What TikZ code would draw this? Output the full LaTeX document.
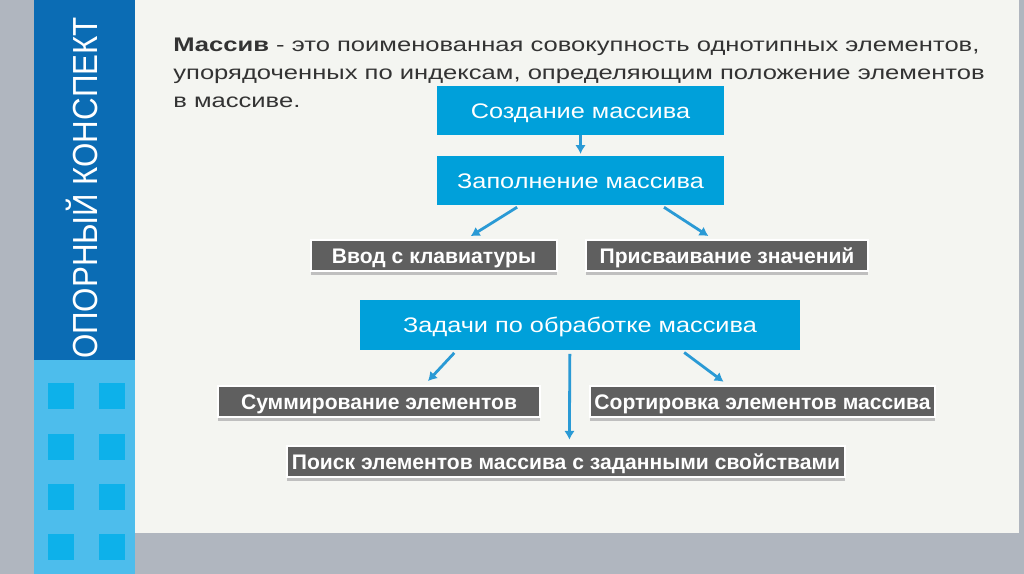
\documentclass[tikz,border=0pt]{standalone}
\usepackage{fontspec}
\setmainfont{Liberation Sans}
\newfontfamily\widefont[FakeStretch=1.3]{Liberation Sans}
\newfontfamily\boxfont[FakeStretch=1.2]{Liberation Sans}
\newfontfamily\sidefont[FakeStretch=0.9]{Liberation Sans}
\usetikzlibrary{calc,arrows.meta,shadows}

\definecolor{panelbg}{HTML}{F4F5F1}
\definecolor{stripgray}{HTML}{B0B6BF}
\definecolor{darkblue}{HTML}{0B6CB4}
\definecolor{lightblue}{HTML}{4DBDEC}
\definecolor{tileblue}{HTML}{0DB1EA}
\definecolor{cyanbox}{HTML}{00A0DA}
\definecolor{boxgray}{HTML}{5F5F5F}
\definecolor{arrowblue}{HTML}{2A9AD5}
\definecolor{titlegray}{HTML}{333333}

\begin{document}
\begin{tikzpicture}[x=0.02cm, y=-0.02cm,
  bluebox/.style={fill=cyanbox, text=white, minimum width=5.74cm, minimum height=0.98cm, align=center,
    text height=8.6pt, text depth=0pt, font=\boxfont\fontsize{12}{14}\selectfont},
  graybox/.style={fill=boxgray, draw=white, line width=1.2pt, text=white, minimum height=0.62cm, inner sep=1pt, align=center,
    text height=8.6pt, text depth=0pt, font=\bfseries\fontsize{12}{13}\selectfont,
    drop shadow={shadow xshift=0pt, shadow yshift=-2.5pt, fill=black!25, opacity=1}},
  arrow/.style={-{Latex[length=5pt,width=6pt]}, draw=arrowblue, line width=1.6pt, shorten <=2pt, shorten >=3pt}
]
% background
\useasboundingbox (0,0) rectangle (1024,574);
\fill[stripgray] (0,0) rectangle (1024,574);
\fill[panelbg] (135,0) rectangle (1019,533);
\fill[darkblue] (34,0) rectangle (135,360);
\fill[lightblue] (34,360) rectangle (135,574);
\foreach \y in {383,434,484,534}
  \foreach \x in {48,99}
    \fill[tileblue] (\x,\y) rectangle ++(26,26);

\node[rotate=90, text=white, font=\sidefont\fontsize{19.8}{22}\selectfont] (side) at (82,188) {ОПОРНЫЙ КОНСПЕКТ};

% definition
\node[anchor=north west, align=left, inner sep=0pt, text=titlegray, font=\widefont\fontsize{11.2}{15.7}\selectfont] (def) at (173,38)
  {\textbf{Массив} - это поименованная совокупность однотипных элементов,\\
   упорядоченных по индексам, определяющим положение элементов\\
   в массиве.};

% boxes
\node[bluebox] (create) at (580.5,110.5) {Создание массива};
\node[bluebox] (fill) at (580.5,180.5) {Заполнение массива};
\node[graybox, minimum width=4.92cm] (input) at (434,255.5) {Ввод с клавиатуры};
\node[graybox, minimum width=5.64cm] (assign) at (727,255.5) {Присваивание значений};
\node[bluebox, minimum width=8.8cm, minimum height=1cm] (tasks) at (580,325) {Задачи по обработке массива};
\node[graybox, minimum width=6.44cm] (sum) at (379,401.5) {Суммирование элементов};
\node[graybox, minimum width=6.9cm] (sort) at (762.5,401.5) {Сортировка элементов массива};
\node[graybox, minimum width=11.16cm] (search) at (566,461.5) {Поиск элементов массива с заданными свойствами};

% arrows
\draw[arrow, shorten <=0pt, shorten >=1pt] (create.south) -- (fill.north);
\draw[arrow] ($(fill.south west)!0.29!(fill.south east)$) -- ($(input.north west)!0.63!(input.north east)$);
\draw[arrow] ($(fill.south west)!0.78!(fill.south east)$) -- ($(assign.north west)!0.45!(assign.north east)$);
\draw[arrow] ($(tasks.south west)!0.22!(tasks.south east)$) -- ($(sum.north west)!0.64!(sum.north east)$);
\draw[arrow] ($(tasks.south west)!0.73!(tasks.south east)$) -- ($(sort.north west)!0.40!(sort.north east)$);
\draw[arrow] ($(tasks.south west)!0.477!(tasks.south east)$) -- ($(search.north west)!0.506!(search.north east)$);
\end{tikzpicture}
\end{document}
